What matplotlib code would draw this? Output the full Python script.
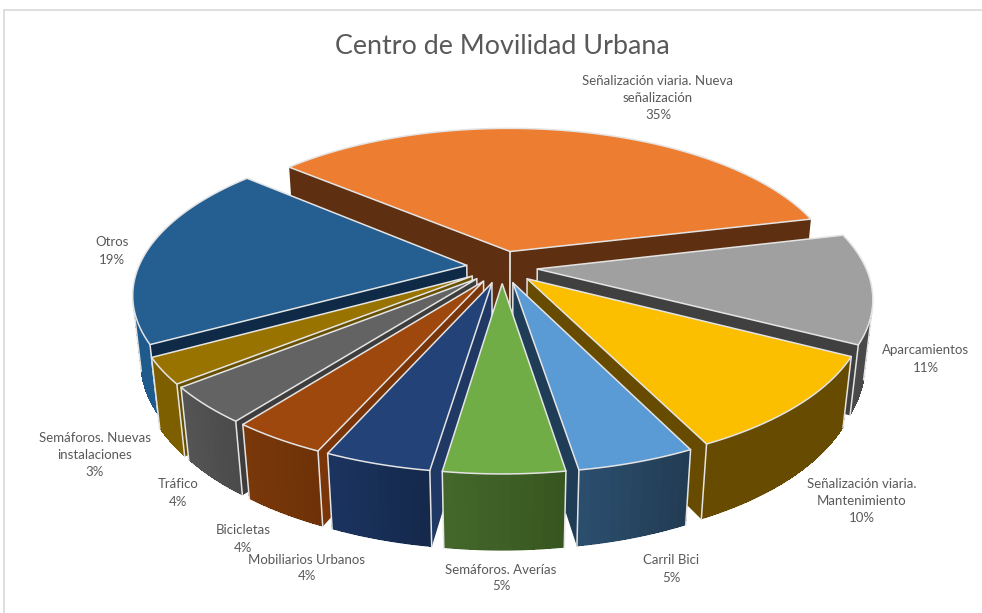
import numpy as np
import matplotlib
matplotlib.use('Agg')
import matplotlib.pyplot as plt

# Datos del gráfico
categorias = ['Señalización viaria. Nueva\nseñalización', 'Aparcamientos',
              'Señalización viaria.\nMantenimiento', 'Carril Bici',
              'Semáforos. Averías', 'Mobiliarios Urbanos', 'Bicicletas',
              'Tráfico', 'Semáforos. Nuevas\ninstalaciones', 'Otros']
valores = [35.0, 11.4, 10.1, 4.75, 4.85, 4.29, 3.81, 3.8, 2.7, 19.3]

# Colores de cada porción: tapa, pared radial, pared exterior (izq. / der.)
col_tapa = ['#ED7D31', '#A0A0A0', '#FBBF00', '#5B9BD5', '#70AD47',
            '#234278', '#9E480E', '#636363', '#997300', '#255E91']
col_radial = ['#5E2F11', '#404040', '#664B00', '#1F3D57', '#2F4A1C',
              '#1F3864', '#7A3509', '#3D3D3D', '#665000', '#0E2A47']
col_ext_izq = ['#5E2F11', '#4A4A4A', '#664B00', '#2B4F6E', '#44682C',
               '#1B3460', '#7A3809', '#555555', '#7D5F00', '#1F5A8C']
col_ext_der = ['#5E2F11', '#404040', '#664B00', '#223B52', '#37561F',
               '#14284A', '#6E3208', '#4A4A4A', '#7D5F00', '#1F5A8C']

# Etiquetas: centro del bloque de texto en píxeles
pos_etiquetas = [(658, 98), (926, 359), (862, 501), (671, 569), (501, 578),
                 (307, 568), (243, 539), (178, 493), (95, 455), (112, 251)]

# Parámetros de la vista 3D
ANGULO_INI = -49.5
EXPLOSION = 0.108
ALTO = 0.235
PHI = np.radians(27.5)
D = 5.0
F = 1625
ESCALA_X = 1.01
CX, CY = 502, 267
BORDE = '#E4E4E4'


def proy(x, y, z):
    xc = x
    yc = z * np.cos(PHI) - y * np.sin(PHI)
    dc = D - (y * np.cos(PHI) + z * np.sin(PHI))
    return CX + ESCALA_X * F * xc / dc, CY - F * yc / dc


def mezcla(c1, c2, t):
    a = np.array(matplotlib.colors.to_rgb(c1))
    b = np.array(matplotlib.colors.to_rgb(c2))
    return tuple(a + (b - a) * t)


def visible(p, normal):
    cam = np.array([0, D * np.cos(PHI), D * np.sin(PHI)])
    return np.dot(normal, cam - p) > 0


def dibujar_porcion(ax, a0, a1, i, zorden):
    # angulos en sentido horario desde el norte
    medio = (a0 + a1) / 2
    ox = EXPLOSION * np.sin(medio)
    oy = -EXPLOSION * np.cos(medio)
    n = max(int(np.degrees(a1 - a0) / 1.5), 4)
    ang = np.linspace(a0, a1, n + 1)
    xs = ox + np.sin(ang)
    ys = oy - np.cos(ang)

    # Paredes radiales
    for a, signo in ((a0, -1), (a1, 1)):
        normal = np.array([signo * np.cos(a), signo * np.sin(a), 0])
        ex, ey = ox + np.sin(a), oy - np.cos(a)
        if visible(np.array([ex, ey, 0]), normal):
            px, py = proy(np.array([ox, ex, ex, ox]), np.array([oy, ey, ey, oy]),
                          np.array([0, 0, -ALTO, -ALTO]))
            ax.fill(px, py, color=col_radial[i], lw=0, zorder=zorden)
            bx, by = proy(np.array([ox, ox]), np.array([oy, oy]), np.array([0, -ALTO]))
            ax.plot(bx, by, color=BORDE, lw=1.1, zorder=zorden)

    # Pared exterior: base suavizada y encima el degradado por tramos
    tramos = [k for k in range(n)
              if visible(np.array([xs[k], ys[k], 0]),
                         np.array([np.sin(ang[k]), -np.cos(ang[k]), 0]))]
    if tramos:
        idx = np.arange(tramos[0], tramos[-1] + 2)
        px, py = proy(np.r_[xs[idx], xs[idx][::-1]], np.r_[ys[idx], ys[idx][::-1]],
                      np.r_[np.zeros(len(idx)), np.full(len(idx), -ALTO)])
        ax.fill(px, py, color=mezcla(col_ext_der[i], col_ext_izq[i], 0.5), lw=0, zorder=zorden)
    for k in tramos:
        px, py = proy(np.array([xs[k], xs[k + 1], xs[k + 1], xs[k]]),
                      np.array([ys[k], ys[k + 1], ys[k + 1], ys[k]]),
                      np.array([0, 0, -ALTO * 0.99, -ALTO * 0.99]))
        ax.fill(px, py, color=mezcla(col_ext_der[i], col_ext_izq[i], (k + 0.5) / n),
                lw=0, antialiased=False, zorder=zorden)
    if tramos:
        for k in (tramos[0], tramos[-1] + 1):
            bx, by = proy(np.array([xs[k], xs[k]]), np.array([ys[k], ys[k]]),
                          np.array([0, -ALTO]))
            ax.plot(bx, by, color=BORDE, lw=1.1, zorder=zorden)

    # Tapa
    px, py = proy(np.r_[ox, xs], np.r_[oy, ys], np.zeros(n + 2))
    ax.fill(px, py, fc=col_tapa[i], ec=BORDE, lw=1.1, joinstyle='miter', zorder=zorden)


fig = plt.figure(figsize=(9.82, 6.13), dpi=100)
ax = fig.add_axes([0, 0, 1, 1])
ax.set_xlim(0, 982)
ax.set_ylim(613, 0)
ax.axis('off')

# Marco del gráfico
ax.plot([4, 4], [613, 10], color='#D9D9D9', lw=1.2)
ax.plot([4, 982], [10, 10], color='#D9D9D9', lw=1.2)

fracciones = np.array(valores) / sum(valores) * 2 * np.pi
limites = np.radians(ANGULO_INI) + np.r_[0, np.cumsum(fracciones)]
medios = (limites[:-1] + limites[1:]) / 2

# Se dibuja de atrás hacia adelante
orden = np.argsort(-np.cos(medios))
for z, i in enumerate(orden, start=2):
    dibujar_porcion(ax, limites[i], limites[i + 1], i, z)

plt.rcParams['font.family'] = ['Lato', 'DejaVu Sans']
ax.text(502, 46, 'Centro de Movilidad Urbana', ha='center', va='center',
        fontsize=19.4, color='#595959')
for nombre, valor, (x, y) in zip(categorias, valores, pos_etiquetas):
    ax.text(x, y, f'{nombre}\n{valor:.0f}%', ha='center', va='center', fontsize=9.5,
            color='#595959', linespacing=1.5, zorder=50)

fig.savefig('out.png', dpi=100)
